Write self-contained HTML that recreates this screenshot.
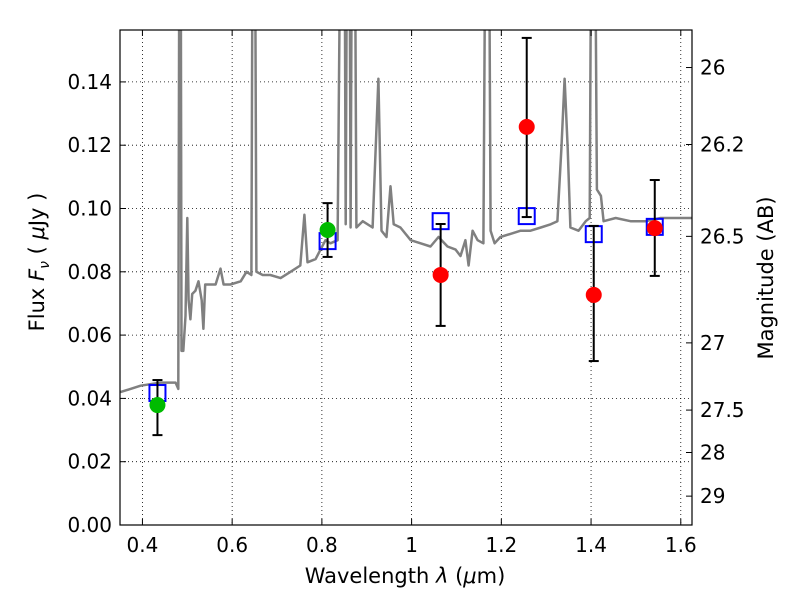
<!DOCTYPE html>
<html><head><meta charset="utf-8"><style>
body{margin:0;background:#fff}
svg text{font-family:"DejaVu Sans","Liberation Sans",sans-serif;fill:#000}
</style></head><body>
<svg id="chart" width="800" height="600" xmlns="http://www.w3.org/2000/svg">
<defs><clipPath id="clip"><rect x="120" y="30" width="572" height="495"/></clipPath></defs>
<g id="grid"></g>
<g id="spec" clip-path="url(#clip)"></g>
<g id="marks"></g>
<rect x="120" y="30" width="572" height="495" fill="none" stroke="#000" stroke-width="1.2"/>
<g id="axes"></g>
<text x="405" y="583" font-size="21" text-anchor="middle">Wavelength  <tspan font-style="italic">λ</tspan> (<tspan font-style="italic">μ</tspan>m)</text>
<text transform="translate(44,262) rotate(-90)" font-size="21" text-anchor="middle">Flux  <tspan font-style="italic">F</tspan><tspan font-style="italic" font-size="14" dy="5">ν</tspan><tspan dy="-5">  (  </tspan><tspan font-style="italic">μ</tspan>Jy )</text>
<text transform="translate(773,278) rotate(-90)" font-size="21" text-anchor="middle">Magnitude (AB)</text>
</svg>
<script>
const specLam=[0.351,0.396,0.440,0.474,0.480,0.484,0.487,0.491,0.496,0.500,0.503,0.507,0.511,0.518,0.525,0.532,0.536,0.540,0.552,0.563,0.574,0.581,0.596,0.619,0.632,0.643,0.648,0.654,0.668,0.685,0.708,0.730,0.752,0.761,0.768,0.786,0.797,0.808,0.819,0.835,0.848,0.853,0.859,0.864,0.870,0.877,0.891,0.913,0.926,0.933,0.944,0.953,0.960,0.975,0.998,1.020,1.042,1.060,1.080,1.098,1.109,1.120,1.127,1.136,1.147,1.160,1.169,1.176,1.185,1.198,1.221,1.243,1.265,1.288,1.310,1.325,1.334,1.341,1.348,1.354,1.372,1.388,1.397,1.404,1.413,1.422,1.428,1.455,1.488,1.522,1.555,1.589,1.627];
const specFlux=[0.042,0.044,0.045,0.045,0.043,0.30,0.055,0.055,0.066,0.097,0.071,0.065,0.073,0.074,0.077,0.071,0.062,0.076,0.076,0.076,0.081,0.076,0.076,0.077,0.080,0.079,0.30,0.080,0.079,0.079,0.078,0.080,0.082,0.098,0.083,0.084,0.087,0.090,0.089,0.090,0.30,0.095,0.30,0.094,0.30,0.094,0.096,0.094,0.141,0.093,0.091,0.107,0.095,0.094,0.090,0.089,0.088,0.091,0.088,0.087,0.085,0.090,0.082,0.093,0.090,0.089,0.30,0.093,0.089,0.091,0.092,0.093,0.093,0.094,0.095,0.096,0.119,0.141,0.119,0.094,0.093,0.096,0.097,0.30,0.106,0.104,0.096,0.097,0.096,0.096,0.097,0.097,0.097];
const modelLam=[0.4335,0.8127,1.0647,1.2566,1.406,1.542];
const modelFlux=[0.0417,0.0897,0.0960,0.0976,0.0919,0.0942];
const greenLam=[0.4335,0.8127];
const greenFlux=[0.0379,0.0932];
const greenLo=[0.0284,0.0847];
const greenHi=[0.0458,0.1017];
const redLam=[1.0647,1.2566,1.406,1.542];
const redFlux=[0.0790,0.1258,0.0727,0.0938];
const redLo=[0.0629,0.0973,0.0518,0.0787];
const redHi=[0.0951,0.1539,0.0945,0.1090];
const xTicks=[0.4,0.6,0.8,1.0,1.2,1.4,1.6];
const xTickLabels=["0.4","0.6","0.8","1","1.2","1.4","1.6"];
const yTicks=[0,0.02,0.04,0.06,0.08,0.10,0.12,0.14];
const yTickLabels=["0.00","0.02","0.04","0.06","0.08","0.10","0.12","0.14"];
const magTicks=[26,26.2,26.5,27,27.5,28,29];
const magLabels=["26","26.2","26.5","27","27.5","28","29"];

const X0=120,X1=692,Y0=525,Y1=30,xmin=0.35,xmax=1.625,ymin=0,ymax=0.1564;
const sx=v=>X0+(v-xmin)/(xmax-xmin)*(X1-X0);
const sy=v=>Y0-(v-ymin)/(ymax-ymin)*(Y0-Y1);
const NS="http://www.w3.org/2000/svg";
function mk(tag,attrs,parent){const e=document.createElementNS(NS,tag);for(const k in attrs)e.setAttribute(k,attrs[k]);parent.appendChild(e);return e;}
const grid=document.getElementById('grid'),axes=document.getElementById('axes'),spec=document.getElementById('spec'),marks=document.getElementById('marks');
xTicks.forEach((v,i)=>{const x=sx(v);
 let g=mk('line',{x1:x,x2:x,y1:Y1,y2:Y0,stroke:'#000','stroke-width':0.8,'stroke-dasharray':'1,3'},grid);
 
 mk('line',{x1:x,x2:x,y1:Y0,y2:Y0-6,stroke:'#000'},axes);
 mk('line',{x1:x,x2:x,y1:Y1,y2:Y1+6,stroke:'#000'},axes);
 let t=mk('text',{x:x,y:Y0+27,'font-size':20,'text-anchor':'middle'},axes);t.textContent=xTickLabels[i];
 });
yTicks.forEach((v,i)=>{const y=sy(v);
 let g=mk('line',{x1:X0,x2:X1,y1:y,y2:y,stroke:'#000','stroke-width':0.8,'stroke-dasharray':'1,3'},grid);
 
 mk('line',{x1:X0,x2:X0+6,y1:y,y2:y,stroke:'#000'},axes);
 let t=mk('text',{x:X0-8,y:y+7,'font-size':20,'text-anchor':'end'},axes);t.textContent=yTickLabels[i];
 });
magTicks.forEach((m,i)=>{const y=sy(Math.pow(10,(23.9-m)/2.5));
 mk('line',{x1:X1,x2:X1-6,y1:y,y2:y,stroke:'#000'},axes);
 let t=mk('text',{x:X1+8,y:y+7,'font-size':20},axes);t.textContent=magLabels[i];
 });
const pts=specLam.map((l,i)=>sx(l).toFixed(1)+','+sy(specFlux[i]).toFixed(1)).join(' ');
let pl=mk('polyline',{points:pts,fill:'none',stroke:'#808080','stroke-width':2.5,'stroke-linejoin':'round'},spec);

function errbar(x,lo,hi){const e=mk('g',{},marks);
 
 mk('line',{x1:x,x2:x,y1:sy(lo),y2:sy(hi),stroke:'#000','stroke-width':2},e);
 mk('line',{x1:x-5,x2:x+5,y1:sy(lo),y2:sy(lo),stroke:'#000','stroke-width':2},e);
 mk('line',{x1:x-5,x2:x+5,y1:sy(hi),y2:sy(hi),stroke:'#000','stroke-width':2},e);}
modelLam.forEach((l,i)=>{const r=mk('rect',{x:sx(l)-8,y:sy(modelFlux[i])-8,width:16,height:16,fill:'none',stroke:'#0000ff','stroke-width':2},marks);
 });
greenLam.forEach((l,i)=>{errbar(sx(l),greenLo[i],greenHi[i]);
 const c=mk('circle',{cx:sx(l),cy:sy(greenFlux[i]),r:8,fill:'#00bb00'},marks);
 });
redLam.forEach((l,i)=>{errbar(sx(l),redLo[i],redHi[i]);
 const c=mk('circle',{cx:sx(l),cy:sy(redFlux[i]),r:8,fill:'#ff0000'},marks);
 });
</script>
</body></html>
